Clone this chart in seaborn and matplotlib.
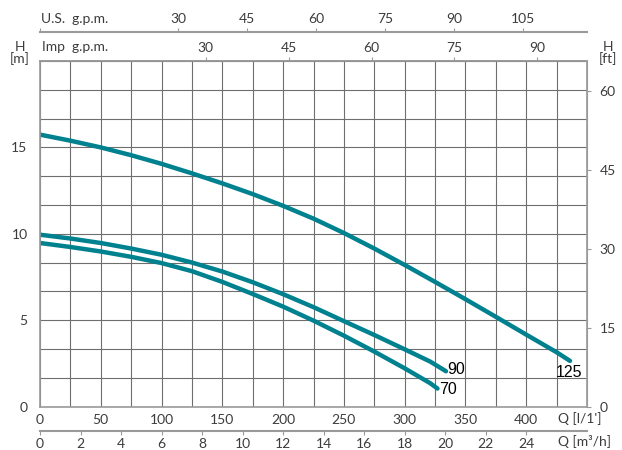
import numpy as np
import pandas as pd
import matplotlib.pyplot as plt
import seaborn as sns

# pump curves, flow in l/min, head in m
q_125 = [0, 25, 50, 75, 100, 125, 150, 175, 200, 225, 250, 275, 300, 325, 350, 375, 400, 425, 436]
h_125 = [15.74, 15.39, 15.0, 14.55, 14.05, 13.5, 12.92, 12.3, 11.62, 10.88, 10.05, 9.15, 8.2, 7.22, 6.22, 5.2, 4.17, 3.15, 2.65]

q_90 = [0, 25, 50, 75, 100, 125, 150, 175, 200, 225, 250, 275, 300, 321, 334]
h_90 = [9.95, 9.73, 9.47, 9.15, 8.79, 8.34, 7.82, 7.2, 6.51, 5.76, 4.95, 4.15, 3.32, 2.61, 2.05]

q_70 = [0, 25, 50, 75, 100, 125, 150, 175, 200, 225, 250, 275, 300, 321, 327]
h_70 = [9.47, 9.24, 8.98, 8.67, 8.31, 7.84, 7.22, 6.52, 5.79, 4.98, 4.11, 3.19, 2.22, 1.36, 1.05]

models = ['70', '90', '125']

q_ticks = [0, 50, 100, 150, 200, 250, 300, 350, 400]
h_ticks = [0, 5, 10, 15]
ft_ticks = [0, 15, 30, 45, 60]
m3h_ticks = [0, 2, 4, 6, 8, 10, 12, 14, 16, 18, 20, 22, 24]
us_ticks = [30, 45, 60, 75, 90, 105]
imp_ticks = [30, 45, 60, 75, 90]

sns.set_style('white')
plt.rcParams['font.family'] = ['Lato', 'DejaVu Sans']

teal = '#00818f'
grey = '#9a9a9a'
txt = '#3c3c3c'

fig = plt.figure(figsize=(6.22, 4.5), dpi=100)
ax = fig.add_axes([40 / 622, 43.3 / 450, 547 / 622, 345.7 / 450])

curves = {'70': (q_70, h_70), '90': (q_90, h_90), '125': (q_125, h_125)}
label_off = {'70': ((1, -1), 'left', 'center'),
             '90': ((1, 1), 'left', 'center'),
             '125': ((-1, -3), 'center', 'top')}
for name in models:
    q, h = curves[name]
    df = pd.DataFrame({'q': q, 'h': h})
    sns.lineplot(data=df, x='q', y='h', ax=ax, color=teal, linewidth=3.2, sort=False)
    off, ha, va = label_off[name]
    ax.annotate(name, (q[-1], h[-1]), xytext=off, textcoords='offset points',
                ha=ha, va=va, fontsize=11.5, color='black', family='Liberation Sans')

ax.set_xlim(0, 450)
ax.set_ylim(0, 20)
xgrid = np.arange(0, 451, 25)
ax.set_xticks(xgrid)
ax.set_xticklabels([str(int(v)) if v in q_ticks else '' for v in xgrid])
ygrid = np.linspace(0, 20, 13)
ax.set_yticks(ygrid)
ax.set_yticklabels([str(int(round(v))) if round(v, 3) in h_ticks else '' for v in ygrid])
ax.grid(True, color='#6e6e6e', linewidth=0.8)
ax.set_xlabel('')
ax.set_ylabel('')
ax.tick_params(axis='x', length=0, pad=5, labelsize=10, labelcolor=txt)
ax.tick_params(axis='y', length=3, color=grey, pad=6, labelsize=10, labelcolor=txt)
for s in ax.spines.values():
    s.set_color(grey)
    s.set_linewidth(1.2)

# right axis in feet
sec_ft = ax.secondary_yaxis('right', functions=(lambda m: m / 0.3048, lambda f: f * 0.3048))
sec_ft.set_yticks(ft_ticks)
sec_ft.tick_params(length=3, color=grey, pad=6, labelsize=10, labelcolor=txt)
sec_ft.spines['right'].set_color(grey)

# Imp gpm on top spine
sec_imp = ax.secondary_xaxis('top', functions=(lambda q: q / 4.546, lambda g: g * 4.546))
sec_imp.set_xticks(imp_ticks)
sec_imp.tick_params(length=3, color=grey, pad=2, labelsize=10, labelcolor=txt)
sec_imp.spines['top'].set_color(grey)
sec_imp.spines['top'].set_linewidth(1.2)

# US gpm above
sec_us = ax.secondary_xaxis(1.083, functions=(lambda q: q / 3.785, lambda g: g * 3.785))
sec_us.set_xticks([0] + us_ticks)
sec_us.set_xticklabels([''] + [str(v) for v in us_ticks])
sec_us.tick_params(length=3, color=grey, pad=2, labelsize=10, labelcolor=txt)
sec_us.spines['top'].set_color(grey)
sec_us.spines['top'].set_linewidth(1.5)

# m3/h below
sec_m3 = ax.secondary_xaxis(-0.0694, functions=(lambda q: q / 16.667, lambda m: m * 16.667))
sec_m3.set_xticks(m3h_ticks)
sec_m3.tick_params(length=3, color=grey, pad=2, labelsize=10, labelcolor=txt)
sec_m3.spines['bottom'].set_color(grey)
sec_m3.spines['bottom'].set_linewidth(1.5)

fs = 10
fig.text(20 / 622, 1 - 53 / 450, 'H\n[m]', ha='center', va='center', fontsize=fs, color=txt, linespacing=1.0)
fig.text(608 / 622, 1 - 53 / 450, 'H\n[ft]', ha='center', va='center', fontsize=fs, color=txt, linespacing=1.0)
fig.text(41 / 622, 1 - 19 / 450, 'U.S.  g.p.m.', ha='left', va='center', fontsize=fs, color=txt)
fig.text(42 / 622, 1 - 47 / 450, 'Imp  g.p.m.', ha='left', va='center', fontsize=fs, color=txt)
fig.text(558 / 622, 1 - 419 / 450, "Q [l/1']", ha='left', va='center', fontsize=fs, color=txt)
fig.text(558 / 622, 1 - 442 / 450, 'Q [m³/h]', ha='left', va='center', fontsize=fs, color=txt)

fig.savefig('out.png', dpi=100)
